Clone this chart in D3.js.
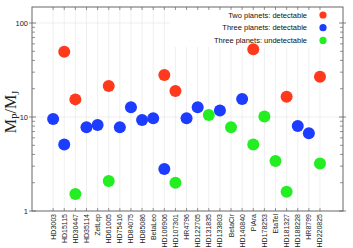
<!DOCTYPE html>
<html><head><meta charset="utf-8">
<script src="https://cdn.jsdelivr.net/npm/d3@7/dist/d3.min.js"></script>
<style>body{margin:0;background:#fff}svg{display:block}</style>
</head><body>
<script>
const categories = ["HD3003","HD15115","HD30447","HD35114","ZetLep","HD61005","HD75416","HD84075","HD85086","BetaLeo","HD106906","HD107301","HR4796","HD122705","HD131835","HD133803","BetaCir","HD140840","PiAra","HD178253","EtaTel","HD181327","HD188228","HR8799","HD220825"];
const twoDetectable = [["HD15115",49.5],["HD30447",15.4],["HD61005",21.4],["HD106906",28],["HD107301",18.9],["PiAra",52.5],["HD181327",16.4],["HD220825",26.8]];
const threeDetectable = [["HD3003",9.5],["HD15115",5.1],["HD35114",7.8],["ZetLep",8.2],["HD75416",7.8],["HD84075",12.7],["HD85086",9.3],["BetaLeo",9.7],["HD106906",2.8],["HR4796",9.7],["HD122705",12.7],["HD133803",11.7],["HD140840",15.5],["HD188228",8.0],["HR8799",6.7]];
const threeUndetectable = [["HD30447",1.52],["HD61005",2.08],["HD107301",2.0],["HD131835",10.5],["BetaCir",7.8],["PiAra",5.1],["HD178253",10.1],["EtaTel",3.4],["HD181327",1.6],["HD220825",3.2]];
const seriesNames = ["Two planets: detectable","Three planets: detectable","Three planets: undetectable"];
const colors = ["#ff3a1c","#1c3cff","#22ee22"];
const yTicks = [1,10,100];

const W=353,H=248, L=32, R=343, T=7, B=211;
const svg=d3.select("body").append("svg").attr("width",W).attr("height",H);
const x=d3.scaleLinear().domain([-1.9,26.07]).range([L,R]);
const xc = name => x(categories.indexOf(name));
const y=d3.scaleLog().domain([1,148]).range([B,T]);

// grid
const g=svg.append("g");
g.selectAll(".vg").data(categories).enter().append("line")
 .attr("x1",d=>xc(d)).attr("x2",d=>xc(d)).attr("y1",T).attr("y2",B)
 .attr("stroke","#ebebeb").attr("stroke-width",0.8);
g.selectAll(".hg").data([10,100]).enter().append("line")
 .attr("x1",L).attr("x2",R).attr("y1",d=>y(d)).attr("y2",d=>y(d))
 .attr("stroke","#ebebeb").attr("stroke-width",0.8);

// legend bg
svg.append("rect").attr("x",170).attr("y",T+1).attr("width",R-171).attr("height",39).attr("fill","#fff");

// frame
const ac="#666";
svg.append("rect").attr("x",L).attr("y",T).attr("width",R-L).attr("height",B-T).attr("fill","none").attr("stroke",ac).attr("stroke-width",1);

// minor ticks
const minor=[];
for(let e=0;e<3;e++) for(let m=2;m<=9;m++){const v=m*Math.pow(10,e); if(v<148) minor.push(v);}
[L,R].forEach((xx,i)=>{
  const s=i===0?1:-1;
  svg.selectAll(null).data(minor).enter().append("line")
   .attr("x1",xx).attr("x2",xx+s*3).attr("y1",d=>y(d)).attr("y2",d=>y(d)).attr("stroke",ac).attr("stroke-width",0.7);
  svg.selectAll(null).data(yTicks).enter().append("line")
   .attr("x1",xx-s*3).attr("x2",xx+s*4).attr("y1",d=>y(d)).attr("y2",d=>y(d)).attr("stroke",ac).attr("stroke-width",0.8);
});
// top/bottom ticks
svg.selectAll(null).data(categories).enter().append("line")
 .attr("x1",d=>xc(d)).attr("x2",d=>xc(d)).attr("y1",T).attr("y2",T+3).attr("stroke",ac).attr("stroke-width",0.7);
svg.selectAll(null).data(categories).enter().append("line")
 .attr("x1",d=>xc(d)).attr("x2",d=>xc(d)).attr("y1",B).attr("y2",B-3).attr("stroke",ac).attr("stroke-width",0.7);

// y tick labels
svg.selectAll(null).data(yTicks).enter().append("text")
 .attr("x",L-4).attr("y",d=>y(d)+2.6).attr("text-anchor","end")
 .attr("font-family","Liberation Sans, Arial, sans-serif").attr("font-size",7.5).attr("fill","#222")
 .text(d=>d);

// x labels
svg.selectAll(null).data(categories).enter().append("text")
 .attr("transform",d=>`translate(${xc(d)+2.5},${B+3}) rotate(-90)`)
 .attr("text-anchor","end")
 .attr("font-family","Liberation Sans, Arial, sans-serif").attr("font-size",7).attr("fill","#222")
 .text(d=>d);

// y label
const yl=svg.append("text").attr("transform",`translate(16,112) rotate(-90)`).attr("text-anchor","middle")
 .attr("font-family","Liberation Serif, Times New Roman, serif").attr("font-size",16).attr("fill","#222");
yl.append("tspan").text("M");
yl.append("tspan").attr("font-size",10).attr("dy",3).text("P");
yl.append("tspan").attr("dy",-3).text("/M");
yl.append("tspan").attr("font-size",10).attr("dy",3).text("J");

// points
[twoDetectable,threeDetectable,threeUndetectable].forEach((s,i)=>{
  svg.selectAll(null).data(s).enter().append("circle")
   .attr("cx",d=>xc(d[0])).attr("cy",d=>y(d[1])).attr("r",6).attr("fill",colors[i]);
});

// legend
seriesNames.forEach((n,i)=>{
  const yy=15+i*12.7;
  svg.append("text").attr("x",307).attr("y",yy+2.6).attr("text-anchor","end")
   .attr("font-family","Liberation Sans, Arial, sans-serif").attr("font-size",7.5).attr("fill","#111").text(n);
  svg.append("circle").attr("cx",323).attr("cy",yy).attr("r",3.6).attr("fill",colors[i]);
});
</script>
</body></html>
